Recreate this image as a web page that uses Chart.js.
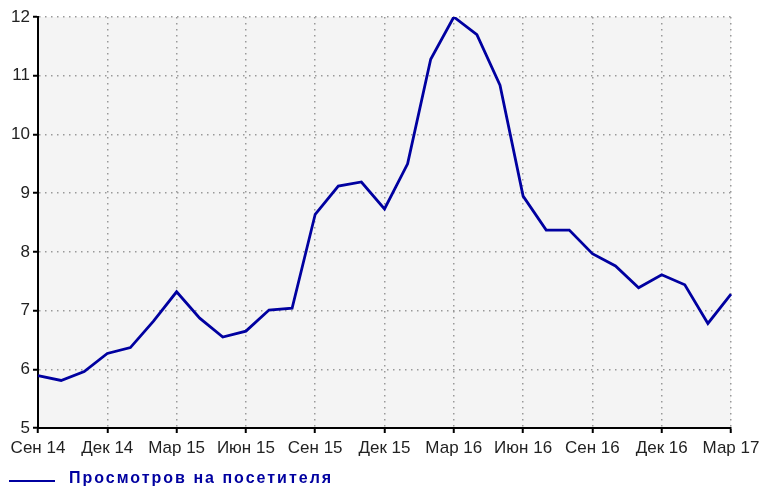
<!DOCTYPE html>
<html>
<head>
<meta charset="utf-8">
<title>Просмотров на посетителя</title>
<script src="https://cdn.jsdelivr.net/npm/chart.js@4.4.1/dist/chart.umd.min.js"></script>
<style>
  body { margin: 0; background: #fff; }
  #wrap { position: relative; width: 760px; height: 491px; }
  #legend-line { position: absolute; left: 9px; top: 480px; width: 46px; height: 2px; background: #0000a0; }
  #legend-text { position: absolute; left: 69px; top: 469px; line-height: 18px;
    font: bold 16px "Liberation Sans", Arial, sans-serif; letter-spacing: 2px; color: #0000a0; white-space: nowrap; }
</style>
</head>
<body>
<div id="wrap">
  <canvas id="views" width="760" height="491"></canvas>
  <div id="legend-line"></div>
  <div id="legend-text">Просмотров на посетителя</div>
</div>
<script>
// месяцы, сен 2014 - мар 2017
var months = ["Сен 14","Окт 14","Ноя 14","Дек 14","Янв 15","Фев 15","Мар 15","Апр 15","Май 15","Июн 15",
  "Июл 15","Авг 15","Сен 15","Окт 15","Ноя 15","Дек 15","Янв 16","Фев 16","Мар 16","Апр 16",
  "Май 16","Июн 16","Июл 16","Авг 16","Сен 16","Окт 16","Ноя 16","Дек 16","Янв 17","Фев 17","Мар 17"];

var viewsPerVisitor = [5.89, 5.81, 5.96, 6.27, 6.37, 6.82, 7.32, 6.87, 6.55, 6.65,
  7.01, 7.04, 8.64, 9.12, 9.19, 8.73, 9.50, 11.28, 12.0, 11.7,
  10.84, 8.95, 8.37, 8.37, 7.97, 7.76, 7.39, 7.61, 7.44, 6.78, 7.28];

var yMin = 5, yMax = 12, yStep = 1;
var labelEvery = 3;

var tickFont = { family: "Liberation Sans", size: 17 };
var gridDots = [1.5, 4.5];

// серый фон области графика
var plotBg = {
  id: 'plotBg',
  beforeDraw: function (chart) {
    var a = chart.chartArea, ctx = chart.ctx;
    ctx.save();
    ctx.fillStyle = '#f4f4f4';
    ctx.fillRect(a.left, a.top, a.right - a.left, a.bottom - a.top);
    ctx.restore();
  }
};

function shown(i) { return i % labelEvery === 0; }

new Chart(document.getElementById("views"), {
  type: 'line',
  data: {
    labels: months,
    datasets: [{
      label: "Просмотров на посетителя",
      data: viewsPerVisitor,
      borderColor: '#0000a0',
      borderWidth: 2.8,
      pointRadius: 0,
      tension: 0,
      fill: false
    }]
  },
  options: {
    responsive: false,
    animation: false,
    layout: { padding: { top: 17, right: 29, bottom: 28, left: 0 } },
    plugins: { legend: { display: false }, tooltip: { enabled: false } },
    scales: {
      x: {
        offset: false,
        grid: {
          color: function (c) { return shown(c.index) ? '#999' : 'transparent'; },
          tickColor: function (c) { return shown(c.index) ? '#000' : 'transparent'; },
          lineWidth: 1.5, tickLength: 5, tickWidth: 2
        },
        border: { color: '#000', width: 2, dash: gridDots },
        ticks: {
          autoSkip: false, maxRotation: 0, padding: 5, color: '#222', font: tickFont,
          callback: function (v, i) { return shown(i) ? months[i] : ''; }
        },
        afterFit: function (s) { s.height = 35; s.paddingLeft = 0; s.paddingRight = 0; }
      },
      y: {
        min: yMin, max: yMax,
        grid: { color: '#999', tickColor: '#000', lineWidth: 1.5, tickLength: 5, tickWidth: 2 },
        border: { color: '#000', width: 2, dash: gridDots },
        ticks: { stepSize: yStep, padding: 3, color: '#222', font: tickFont },
        afterFit: function (s) { s.width = 38; }
      }
    }
  },
  plugins: [plotBg]
});
</script>
</body>
</html>
